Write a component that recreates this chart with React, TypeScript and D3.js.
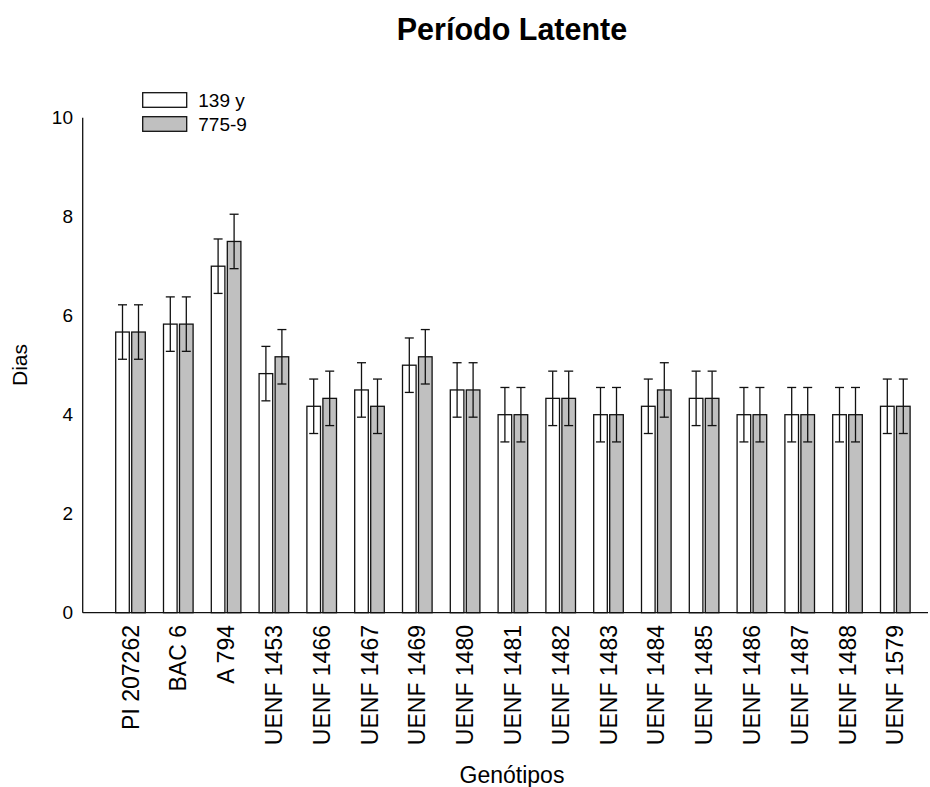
import React from "react";
import * as d3 from "d3";

const genotypes = [
  "PI 207262", "BAC 6", "A 794", "UENF 1453", "UENF 1466", "UENF 1467",
  "UENF 1469", "UENF 1480", "UENF 1481", "UENF 1482", "UENF 1483",
  "UENF 1484", "UENF 1485", "UENF 1486", "UENF 1487", "UENF 1488", "UENF 1579",
];
const seriesNames = ["139 y", "775-9"];
const values139 = [5.67, 5.83, 7.0, 4.83, 4.17, 4.5, 5.0, 4.5, 4.0, 4.33, 4.0, 4.17, 4.33, 4.0, 4.0, 4.0, 4.17];
const values775 = [5.67, 5.83, 7.5, 5.17, 4.33, 4.17, 5.17, 4.5, 4.0, 4.33, 4.0, 4.5, 4.33, 4.0, 4.0, 4.0, 4.17];
const err139 = [0.55, 0.55, 0.55, 0.55, 0.55, 0.55, 0.55, 0.55, 0.55, 0.55, 0.55, 0.55, 0.55, 0.55, 0.55, 0.55, 0.55];
const err775 = [0.55, 0.55, 0.55, 0.55, 0.55, 0.55, 0.55, 0.55, 0.55, 0.55, 0.55, 0.55, 0.55, 0.55, 0.55, 0.55, 0.55];
const yTicks = [0, 2, 4, 6, 8, 10];
const fills = ["#ffffff", "#c0c0c0"];

export default function App() {
  const width = 930;
  const height = 787;
  const left = 82.7;
  const top = 117.7;
  const bottom = 612.7;

  const x0 = d3.scaleBand<string>().domain(genotypes).range([106.6, 919.2]);
  const x1 = d3.scaleBand<string>().domain(seriesNames).range([9.1, 38.7]).paddingInner(0.15);
  const y = d3.scaleLinear().domain([0, 10]).range([bottom, top]);

  const rows = genotypes.map((g, i) => ({
    g,
    vals: [values139[i], values775[i]],
    errs: [err139[i], err775[i]],
  }));

  const font = "Arial, 'Liberation Sans', Helvetica, sans-serif";

  return (
    <svg width={width} height={height} style={{ position: "absolute", left: 0, top: 0, fontFamily: font }}>
      <rect width={width} height={height} fill="white" />
      <text x={512} y={40} textAnchor="middle" fontSize={30.5} fontWeight="bold">
        Período Latente
      </text>

      {/* bars */}
      {rows.map((r) => (
        <g key={r.g} transform={`translate(${x0(r.g)},0)`}>
          {seriesNames.map((s, k) => {
            const bx = x1(s)!;
            const bw = x1.bandwidth();
            const v = r.vals[k];
            const e = r.errs[k];
            const cx = bx + bw / 2;
            return (
              <g key={s}>
                <rect x={bx} y={y(v)} width={bw} height={y(0) - y(v)} fill={fills[k]} stroke="#111" strokeWidth={1.3} />
                <line x1={cx} x2={cx} y1={y(v + e)} y2={y(v - e)} stroke="#111" strokeWidth={1.3} />
                <line x1={cx - 4.5} x2={cx + 4.5} y1={y(v + e)} y2={y(v + e)} stroke="#111" strokeWidth={1.3} />
                <line x1={cx - 4.5} x2={cx + 4.5} y1={y(v - e)} y2={y(v - e)} stroke="#111" strokeWidth={1.3} />
              </g>
            );
          })}
        </g>
      ))}

      {/* axes */}
      <line x1={left} x2={left} y1={top} y2={bottom} stroke="#111" strokeWidth={1.3} />
      <line x1={left} x2={928} y1={bottom} y2={bottom} stroke="#111" strokeWidth={1.3} />
      {yTicks.map((t) => (
        <text key={t} x={73} y={y(t)} dy="0.35em" textAnchor="end" fontSize={19}>
          {t}
        </text>
      ))}
      {genotypes.map((g) => (
        <text
          key={g}
          transform={`translate(${x0(g)! + x0.bandwidth() / 2},625) rotate(-90)`}
          textAnchor="end"
          dy="0.35em"
          fontSize={23}
        >
          {g}
        </text>
      ))}
      <text transform="translate(27,365) rotate(-90)" textAnchor="middle" fontSize={21}>
        Dias
      </text>
      <text x={512} y={783} textAnchor="middle" fontSize={23}>
        Genótipos
      </text>

      {/* legend */}
      {seriesNames.map((s, k) => (
        <g key={s} transform={`translate(142.7,${92.7 + k * 24})`}>
          <rect width={44} height={14.6} fill={fills[k]} stroke="#111" strokeWidth={1.3} />
          <text x={55.6} y={14.6} fontSize={19}>
            {s}
          </text>
        </g>
      ))}
    </svg>
  );
}
